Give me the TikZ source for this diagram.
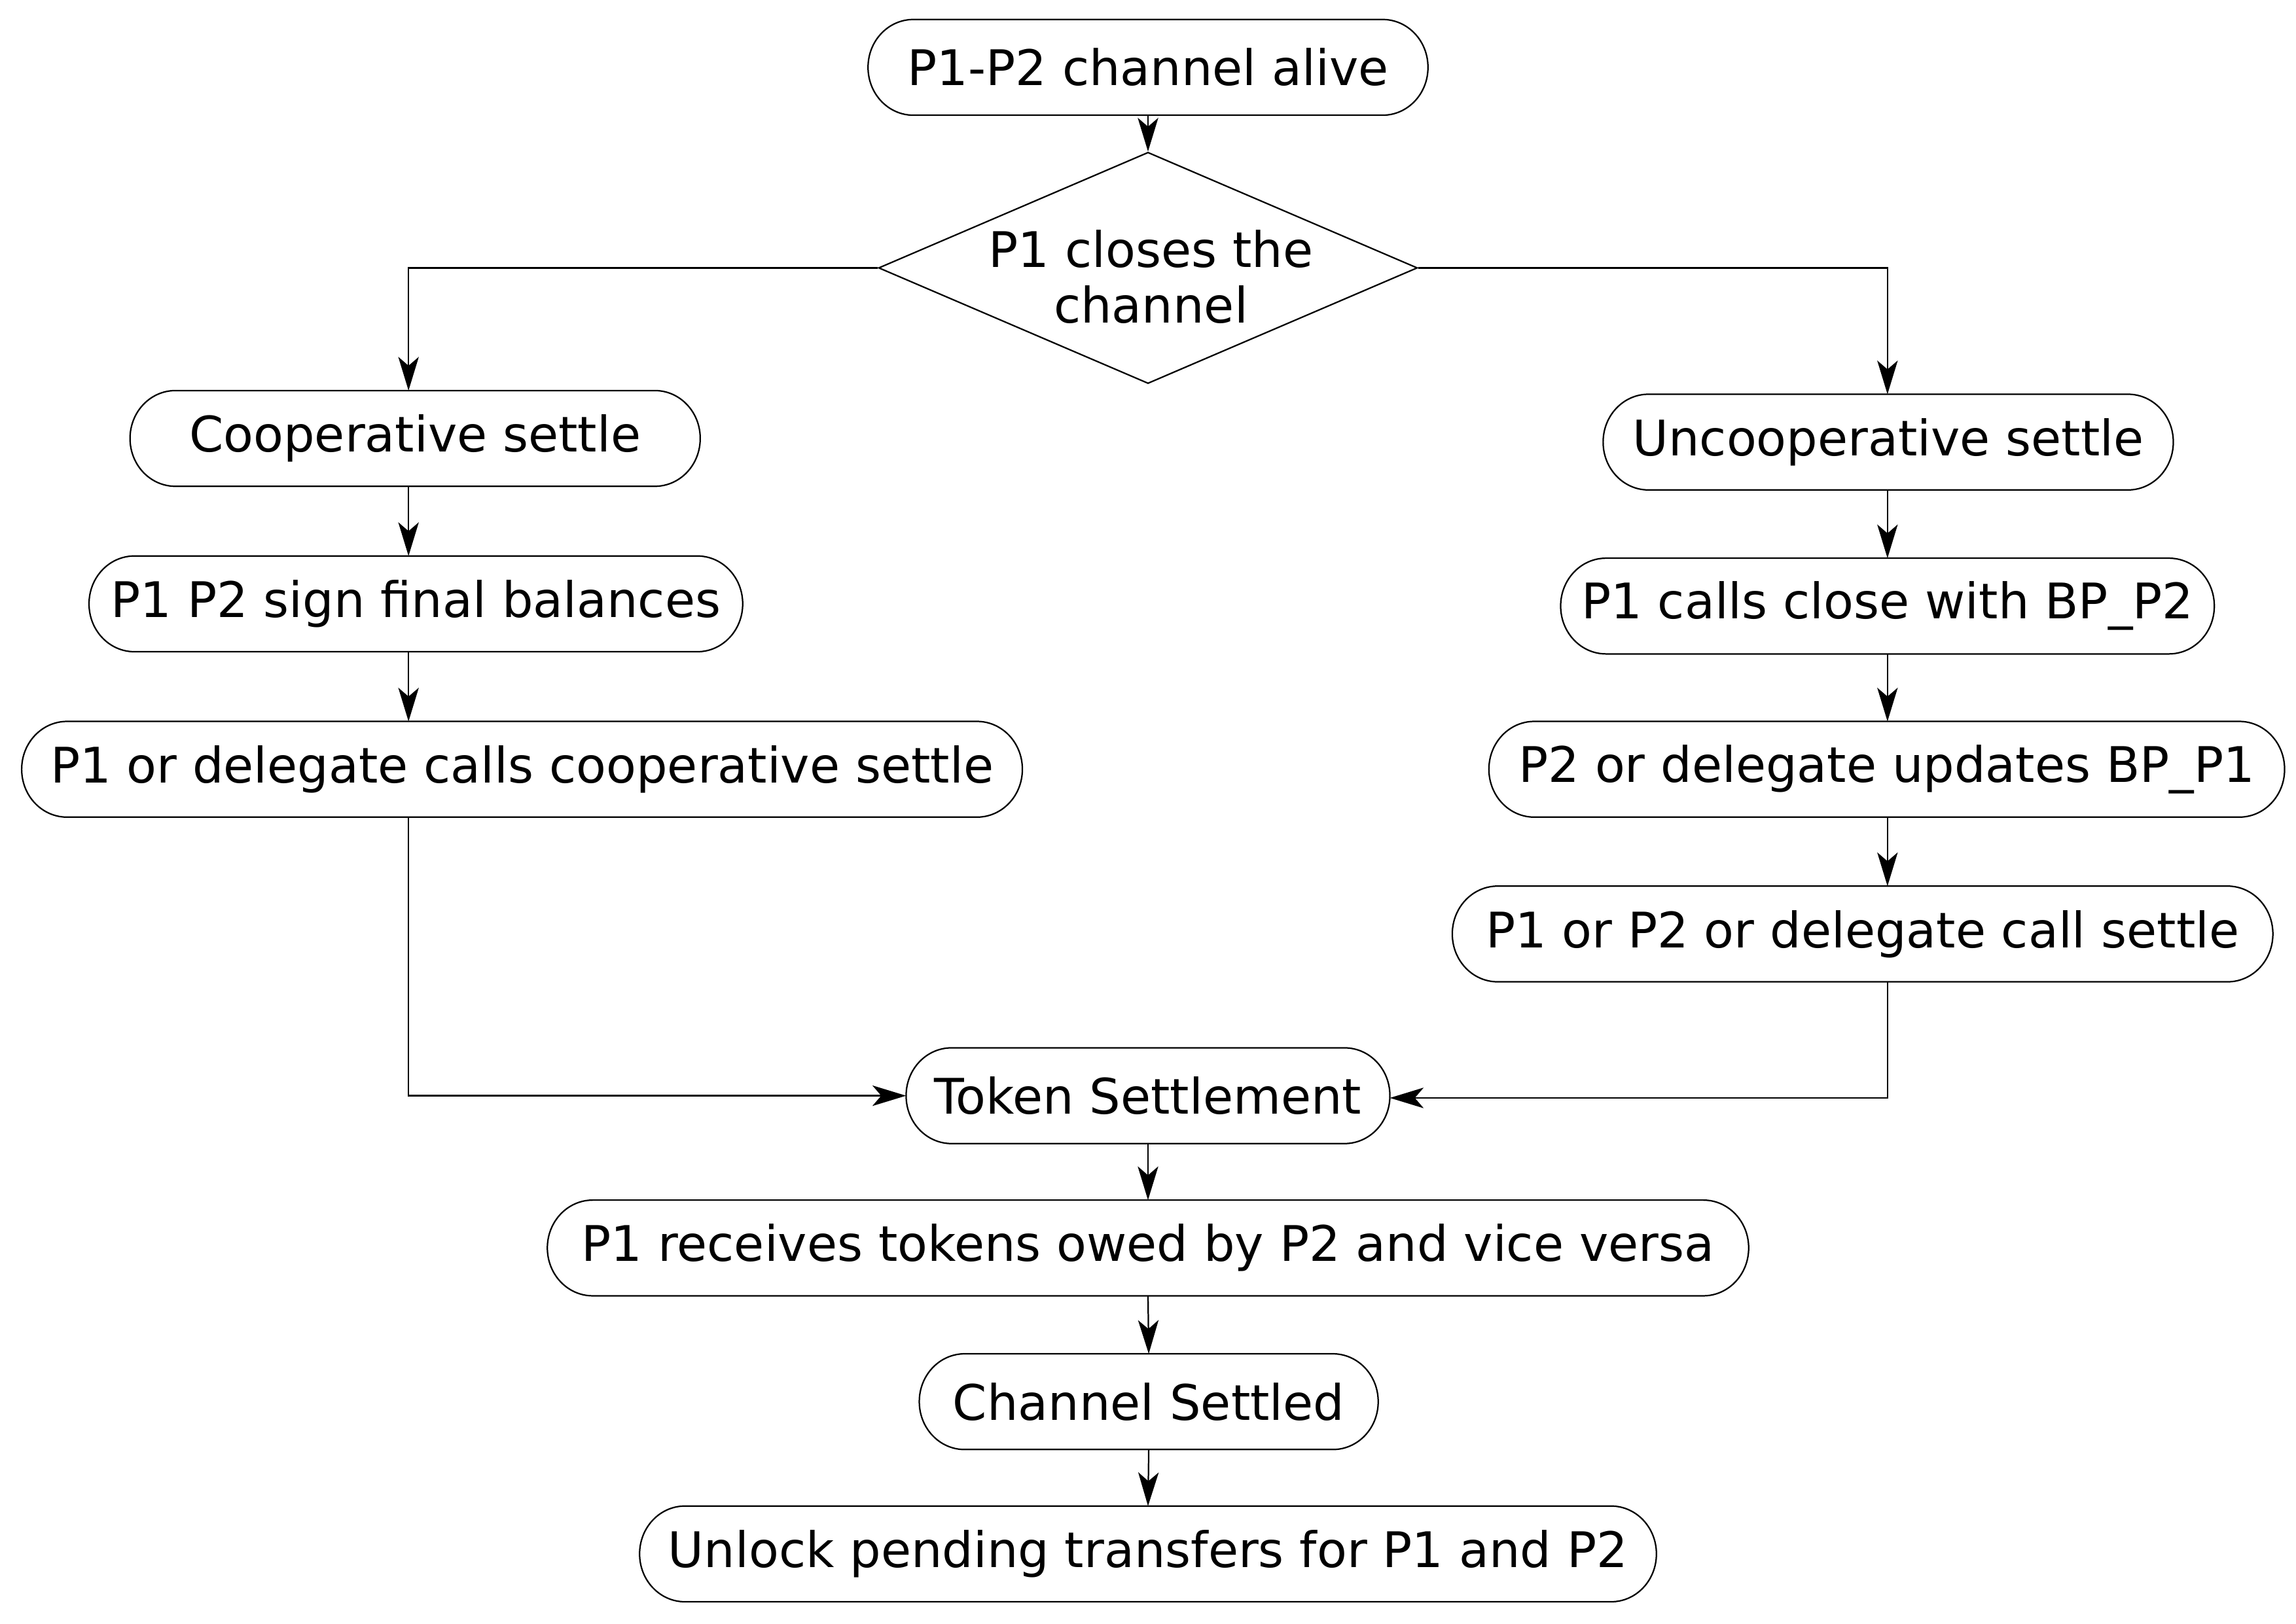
\documentclass[tikz,border=0pt]{standalone}
\usepackage{fontspec}
\setmainfont{DejaVu Sans}
\usetikzlibrary{arrows.meta,shapes.geometric,calc}
\newcommand\pillbox[1]{%
\draw[pillline] ([xshift=31pt]#1.north west) .. controls ([xshift=13.9pt]#1.north west) and ([yshift=-14.5pt]#1.north west) .. (#1.west)
 .. controls ([yshift=14.5pt]#1.south west) and ([xshift=13.9pt]#1.south west) .. ([xshift=31pt]#1.south west)
 -- ([xshift=-31pt]#1.south east) .. controls ([xshift=-13.9pt]#1.south east) and ([yshift=14.5pt]#1.south east) .. (#1.east)
 .. controls ([yshift=-14.5pt]#1.north east) and ([xshift=-13.9pt]#1.north east) .. ([xshift=-31pt]#1.north east) -- cycle;}
\begin{document}
\begin{tikzpicture}[x=1pt,y=-1pt,
  pillline/.style={line width=1pt},
  stepbox/.style={inner sep=0pt, minimum height=65pt, font=\fontsize{33.5}{38}\selectfont},
  conn/.style={line width=1pt, -{Stealth[length=23pt,width=14pt,inset=6pt]}}]
\useasboundingbox (0,0) rectangle (1568,1109);
\fill[white] (0,0) rectangle (1568,1109);
\coordinate (lx) at (279,0);
\coordinate (rx) at (1289,0);
\node[stepbox, minimum width=382pt] (alive) at (784,46) {P1-P2 channel alive};
\node[draw, diamond, line width=1pt, inner sep=0pt, minimum width=368pt, minimum height=158pt] (dec) at (784,183) {};
\node[font=\fontsize{33.5}{38}\selectfont, align=center, inner sep=0pt] (dectext) at (786,189) {P1 closes the\\channel};
\node[stepbox, minimum width=389pt] (coop) at (283.5,299.5) {Cooperative settle};
\node[stepbox, minimum width=446pt] (sign) at (284,412.5) {P1 P2 sign final balances};
\node[stepbox, minimum width=683pt] (del) at (356.5,525.5) {P1 or delegate calls cooperative settle};
\node[stepbox, minimum width=389pt] (uncoop) at (1289.5,302) {Uncooperative settle};
\node[stepbox, minimum width=446pt] (close) at (1289,414) {P1 calls close with BP\_P2};
\node[stepbox, minimum width=543pt] (upd) at (1288.5,525.5) {P2 or delegate updates BP\_P1};
\node[stepbox, minimum width=560pt] (cset) at (1272,638) {P1 or P2 or delegate call settle};
\node[stepbox, minimum width=330pt] (tok) at (784,748.5) {Token Settlement};
\node[stepbox, minimum width=820pt] (recv) at (784,852.5) {P1 receives tokens owed by P2 and vice versa};
\node[stepbox, minimum width=313pt] (sett) at (784.5,957.5) {Channel Settled};
\node[stepbox, minimum width=694pt] (unl) at (784,1061.5) {Unlock pending transfers for P1 and P2};
\foreach \n in {alive,coop,sign,del,uncoop,close,upd,cset,tok,recv,sett,unl} {\pillbox{\n}}
\draw[conn] (alive.south) -- (dec.north);
\draw[conn] (dec.west) -| (lx |- coop.north);
\draw[conn] (dec.east) -| (rx |- uncoop.north);
\draw[conn] (lx |- coop.south) -- (lx |- sign.north);
\draw[conn] (lx |- sign.south) -- (lx |- del.north);
\draw[conn] (lx |- del.south) |- (tok.west);
\draw[conn] (rx |- uncoop.south) -- (rx |- close.north);
\draw[conn] (rx |- close.south) -- (rx |- upd.north);
\draw[conn] (rx |- upd.south) -- (rx |- cset.north);
\draw[conn] (rx |- cset.south) |- ([yshift=-1.5pt]tok.east);
\draw[conn] (tok.south) -- (recv.north);
\draw[conn] (recv.south) -- (sett.north);
\draw[conn] (sett.south) -- (unl.north);
\end{tikzpicture}
\end{document}
